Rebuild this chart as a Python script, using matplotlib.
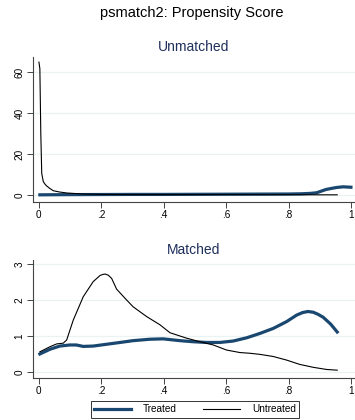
import matplotlib
matplotlib.use("Agg")
import matplotlib.pyplot as plt
from matplotlib.lines import Line2D

plt.rcParams['font.family'] = ['Liberation Sans', 'DejaVu Sans']

# Unmatched panel
um_untr_x = [0.0, 0.003, 0.006, 0.009, 0.014, 0.02, 0.025, 0.035, 0.046, 0.065, 0.089, 0.14, 0.2, 0.3, 0.4, 0.5, 0.6, 0.7, 0.8, 0.9, 0.956]
um_untr_y = [64.8, 61.6, 30.0, 10.5, 6.5, 5.2, 4.4, 3.2, 2.1, 1.5, 1.0, 0.5, 0.3, 0.2, 0.2, 0.2, 0.2, 0.15, 0.15, 0.1, 0.1]
um_tr_x = [0.003, 0.1, 0.2, 0.3, 0.4, 0.5, 0.6, 0.7, 0.8, 0.84, 0.87, 0.89, 0.905, 0.92, 0.94, 0.955, 0.975, 1.0]
um_tr_y = [0.1, 0.2, 0.25, 0.3, 0.3, 0.35, 0.4, 0.45, 0.5, 0.6, 0.8, 1.1, 1.9, 2.7, 3.3, 3.7, 4.0, 3.8]

# Matched panel
m_untr_x = [0.003, 0.035, 0.057, 0.078, 0.089, 0.11, 0.142, 0.174, 0.196, 0.205, 0.212, 0.222, 0.233, 0.249,
            0.281, 0.302, 0.345, 0.388, 0.42, 0.473, 0.516, 0.559, 0.601, 0.644, 0.676, 0.708,
            0.751, 0.794, 0.836, 0.879, 0.922, 0.956]
m_untr_y = [0.56, 0.70, 0.78, 0.80, 0.89, 1.44, 2.09, 2.51, 2.68, 2.71, 2.72, 2.69, 2.60, 2.30,
            2.0, 1.81, 1.54, 1.31, 1.09, 0.94, 0.84, 0.75, 0.61, 0.54, 0.52, 0.49,
            0.43, 0.33, 0.21, 0.13, 0.07, 0.05]
m_tr_x = [0.003, 0.035, 0.067, 0.099, 0.12, 0.142, 0.174, 0.217, 0.26, 0.302, 0.356, 0.398,
          0.452, 0.495, 0.537, 0.58, 0.623, 0.666, 0.708, 0.751, 0.794, 0.826, 0.845, 0.862, 0.879,
          0.895, 0.911, 0.935, 0.956]
m_tr_y = [0.50, 0.63, 0.72, 0.75, 0.75, 0.71, 0.72, 0.77, 0.82, 0.87, 0.91, 0.92,
          0.87, 0.84, 0.82, 0.82, 0.86, 0.95, 1.07, 1.21, 1.40, 1.58, 1.65, 1.68, 1.66,
          1.60, 1.52, 1.33, 1.11]

x_ticks = [0, 0.2, 0.4, 0.6, 0.8, 1.0]
x_labels = ['0', '.2', '.4', '.6', '.8', '1']
top_yticks = [0, 20, 40, 60]
bot_yticks = [0, 1, 2, 3]

navy = '#1a476f'
title_col = '#1e2f5c'
grid_col = '#eaf2f3'

W, H = 355, 420
fig = plt.figure(figsize=(W / 100, H / 100), dpi=100)
fig.patch.set_facecolor('white')

def ax_rect(l, t, r, b):
    return [l / W, 1 - b / H, (r - l) / W, (b - t) / H]

ax1 = fig.add_axes(ax_rect(33, 57, 355, 202))
ax2 = fig.add_axes(ax_rect(33, 260, 355, 378))

def style(ax, yticks, ylim, title):
    ax.set_xlim(-0.019, 1.013)
    ax.set_ylim(*ylim)
    ax.set_xticks(x_ticks)
    ax.set_xticklabels(x_labels)
    ax.set_yticks(yticks)
    ax.set_yticklabels([str(v) for v in yticks], rotation=90, va='center')
    for s in ['top', 'right']:
        ax.spines[s].set_visible(False)
    for s in ['left', 'bottom']:
        ax.spines[s].set_color('#444444')
        ax.spines[s].set_linewidth(0.8)
    ax.tick_params(labelsize=7.2, length=4, width=0.7, color='#444444', pad=2)
    ax.grid(axis='y', color=grid_col, linewidth=0.9)
    ax.set_axisbelow(True)
    ax.set_title(title, fontsize=10, color=title_col, pad=4)

ax1.plot(um_tr_x, um_tr_y, color=navy, linewidth=2.3, solid_joinstyle='round')
ax1.plot(um_untr_x, um_untr_y, color='black', linewidth=0.8)
style(ax1, top_yticks, (-3.4, 67.3), 'Unmatched')

ax2.plot(m_tr_x, m_tr_y, color=navy, linewidth=2.3, solid_joinstyle='round')
ax2.plot(m_untr_x, m_untr_y, color='black', linewidth=0.8)
style(ax2, bot_yticks, (-0.167, 3.11), 'Matched')

fig.text(192 / W, 1 - 13 / H, 'psmatch2: Propensity Score', ha='center', va='center', fontsize=10.5)

handles = [Line2D([], [], color=navy, linewidth=2.3), Line2D([], [], color='black', linewidth=0.8)]
leg = fig.legend(handles, ['Treated', 'Untreated'], loc='center', bbox_to_anchor=(195 / W, 1 - 409.5 / H),
                 ncol=2, fontsize=7.2, frameon=True, fancybox=False, edgecolor='black',
                 handlelength=3.7, columnspacing=2.6, borderpad=0.35, handletextpad=1.2)
leg.get_frame().set_linewidth(0.7)

fig.savefig('out.png', dpi=100, facecolor='white')
